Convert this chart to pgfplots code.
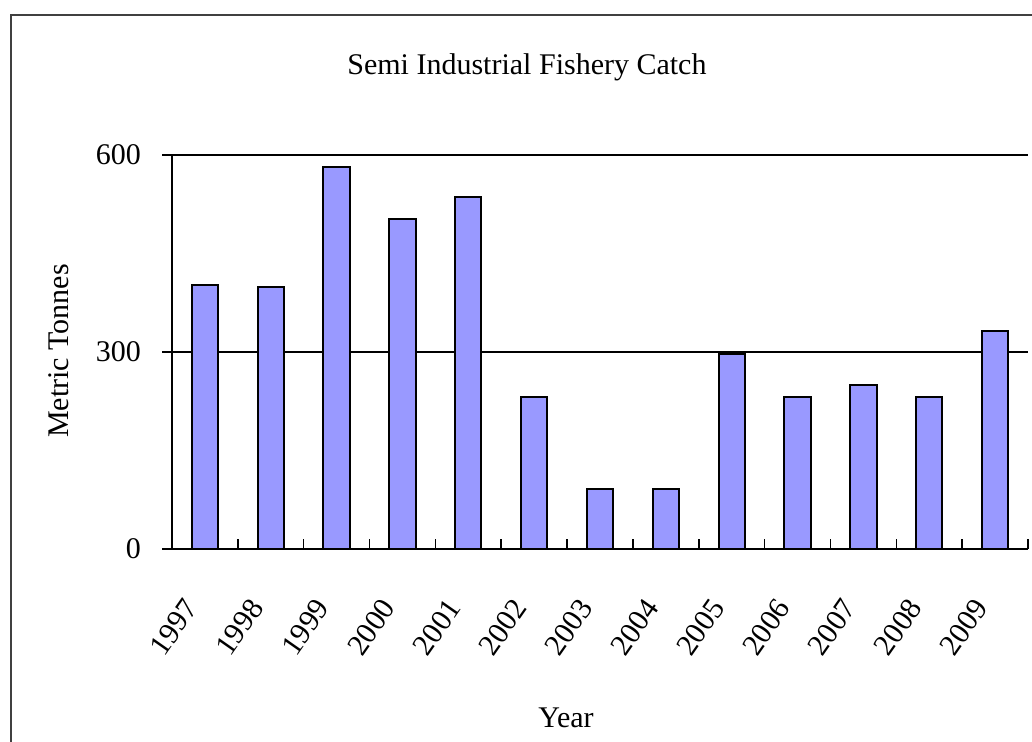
\documentclass[border=0pt]{standalone}
\usepackage{fontspec}
\setmainfont{Liberation Serif}
\usepackage{pgfplots}
\pgfplotsset{compat=1.18}
\definecolor{barblue}{HTML}{9999FF}
\begin{document}
\begin{tikzpicture}
\useasboundingbox (0,0) rectangle (516pt,371pt);
\fill[white] (0,0) rectangle (516pt,371pt);
\draw[line width=1pt, black!75] (5.5pt,-2pt) -- (5.5pt,363.5pt) -- (520pt,363.5pt);
\begin{axis}[
  at={(86pt,96.5pt)}, anchor=south west,
  scale only axis, width=428pt, height=197pt,
  xmin=-0.5, xmax=12.5, ymin=0, ymax=600,
  axis x line=bottom, axis y line=left,
  axis line style={-, line width=1pt, black},
  ybar, bar width=0.4,
  xtick={0,...,12},
  xticklabels={1997,1998,1999,2000,2001,2002,2003,2004,2005,2006,2007,2008,2009},
  minor xtick={-0.5,0.5,...,12.5},
  major x tick style={draw=none},
  minor x tick style={black, line width=0.8pt},
  minor tick length=5pt,
  xtick align=inside,
  ytick={0,300,600},
  ytick align=outside,
  major tick length=5pt,
  major y tick style={black, line width=0.8pt},
  ymajorgrids, grid style={black, line width=0.8pt},
  /pgf/number format/assume math mode=true,
  tick label style={font=\fontsize{15}{18}\selectfont},
  x tick label style={xshift=-5pt, rotate=55, anchor=east},
  xticklabel shift=24pt,
  yticklabel shift=7pt,
  clip=false,
]
\addplot[fill=barblue, draw=black, line width=1pt] coordinates {
  (0,402) (1,399) (2,582) (3,502) (4,536) (5,231) (6,91)
  (7,91) (8,297) (9,231) (10,249) (11,231) (12,332)
};
\end{axis}
\node[anchor=base west, inner sep=0pt, font=\fontsize{15}{18}\selectfont] at (173.5pt,333.5pt) {Semi Industrial Fishery Catch};
\node[anchor=base, rotate=90, inner sep=0pt, font=\fontsize{15}{18}\selectfont] at (34pt,195.5pt) {Metric Tonnes};
\node[anchor=base west, inner sep=0pt, font=\fontsize{15}{18}\selectfont] at (269pt,7pt) {Year};
\end{tikzpicture}
\end{document}
